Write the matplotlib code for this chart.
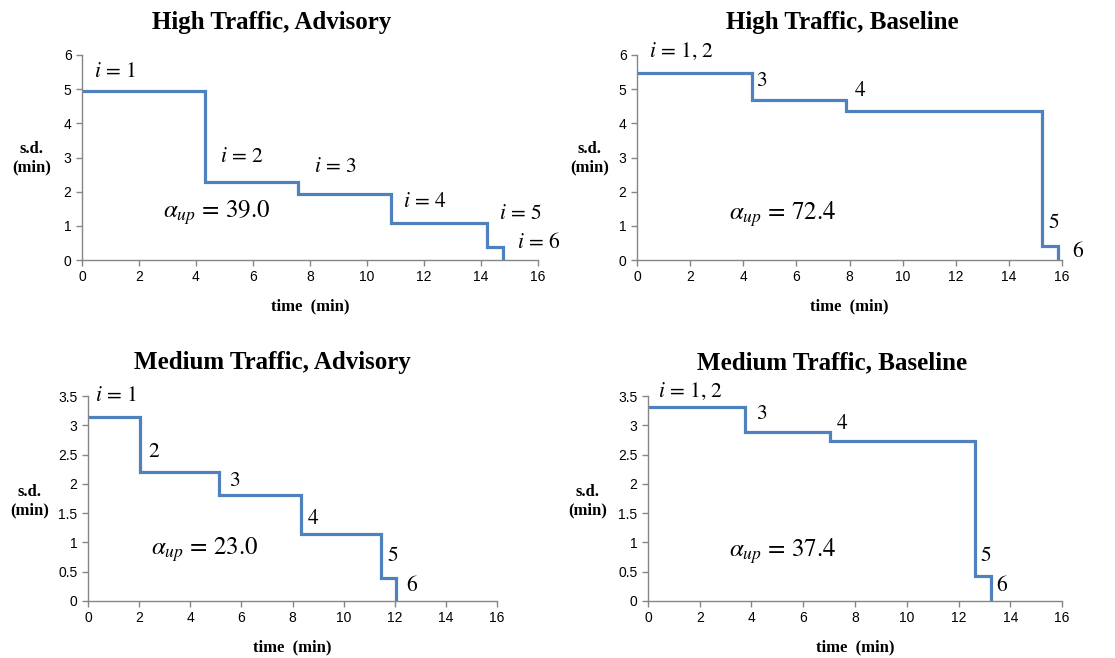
import matplotlib
matplotlib.use("Agg")
import matplotlib.pyplot as plt
from matplotlib.ticker import FuncFormatter

plt.rcParams['mathtext.fontset'] = 'stix'

# step change times (min) and s.d. values (min) for each panel
titles = ["High Traffic, Advisory", "High Traffic, Baseline",
          "Medium Traffic, Advisory", "Medium Traffic, Baseline"]
hi_adv_t = [0, 4.33, 7.58, 10.83, 14.2, 14.77]
hi_adv_sd = [4.96, 2.27, 1.92, 1.08, 0.38, 0]
hi_base_t = [0, 4.32, 7.85, 15.24, 15.85]
hi_base_sd = [5.48, 4.67, 4.35, 0.40, 0]
med_adv_t = [0, 2.03, 5.11, 8.34, 11.47, 12.03]
med_adv_sd = [3.15, 2.2, 1.81, 1.15, 0.40, 0]
med_base_t = [0, 3.75, 7.04, 12.63, 13.25]
med_base_sd = [3.32, 2.89, 2.73, 0.42, 0]
alpha_up = [39.0, 72.4, 23.0, 37.4]
y_max = [6, 6, 3.5, 3.5]
y_step = [1, 1, 0.5, 0.5]

# annotation labels: (text, x, y) in data coords (left, vcenter)
labels = [
    [("$i$ = 1", 0.42, 5.5), ("$i$ = 2", 4.83, 3.0), ("$i$ = 3", 8.13, 2.73),
     ("$i$ = 4", 11.25, 1.68), ("$i$ = 5", 14.64, 1.35), ("$i$ = 6", 15.28, 0.5)],
    [("$i$ = 1, 2", 0.45, 6.1), ("3", 4.5, 5.24), ("4", 8.2, 4.93),
     ("5", 15.5, 1.07), ("6", 16.37, 0.24)],
    [("$i$ = 1", 0.29, 3.5), ("2", 2.35, 2.55), ("3", 5.5, 2.05),
     ("4", 8.6, 1.39), ("5", 11.7, 0.76), ("6", 12.45, 0.25)],
    [("$i$ = 1, 2", 0.39, 3.57), ("3", 4.19, 3.19), ("4", 7.28, 3.02),
     ("5", 12.85, 0.76), ("6", 13.44, 0.25)],
]
alpha_pos = [(2.83, 1.38), (3.47, 1.35), (2.48, 0.875), (3.13, 0.85)]

series = [(hi_adv_t, hi_adv_sd), (hi_base_t, hi_base_sd),
          (med_adv_t, med_adv_sd), (med_base_t, med_base_sd)]

W, H = 1115, 658
# axes boxes in pixels: left, right, top, bottom
boxes = [(82, 538, 55, 260), (637, 1062, 55, 260),
         (88, 497, 396, 601), (648, 1062, 396, 601)]
title_pos = [(272, 22), (842, 22), (272, 363), (832, 363)]
ylab_pos = [(32, 158), (590, 158), (30, 501), (588, 501)]

fig = plt.figure(figsize=(W / 100, H / 100), dpi=100)
gray = '#868686'
blue = '#4F81BD'
serif = 'Liberation Serif'

for k in range(4):
    l, r, t, b = boxes[k]
    ax = fig.add_axes([l / W, 1 - b / H, (r - l) / W, (b - t) / H])
    xs, ys = series[k]
    ax.step(xs, ys, where='post', color=blue, lw=2.3, solid_joinstyle='miter')
    ax.set_xlim(0, 16)
    ax.set_ylim(0, y_max[k])
    ax.set_xticks(range(0, 17, 2))
    n = int(round(y_max[k] / y_step[k]))
    ax.set_yticks([i * y_step[k] for i in range(n + 1)])
    ax.yaxis.set_major_formatter(FuncFormatter(lambda v, p: '%g' % v))
    for s in ['top', 'right']:
        ax.spines[s].set_visible(False)
    for s in ['left', 'bottom']:
        ax.spines[s].set_color(gray)
        ax.spines[s].set_linewidth(1.0)
    ax.tick_params(colors=gray, labelcolor='black', labelsize=10,
                   length=4, width=1.0, direction='out')
    for lab in ax.get_xticklabels() + ax.get_yticklabels():
        lab.set_family('Liberation Sans')
    ax.set_xlabel("time  (min)", fontfamily=serif, fontweight='bold',
                  fontsize=12, labelpad=10)
    yx, yy = ylab_pos[k]
    fig.text(yx / W, 1 - yy / H, "s.d.\n(min)", ha='center', va='center',
             fontfamily=serif, fontweight='bold', fontsize=12,
             linespacing=1.15)
    for txt, x, y in labels[k]:
        ax.text(x, y, txt, ha='left', va='center', fontsize=15.5,
                fontfamily='STIXGeneral', clip_on=False)
    ax.text(alpha_pos[k][0], alpha_pos[k][1],
            r"$\alpha_{up}$ = %.1f" % alpha_up[k], ha='left', va='center',
            fontsize=18, fontfamily='STIXGeneral')
    tx, ty = title_pos[k]
    fig.text(tx / W, 1 - ty / H, titles[k], ha='center', va='center',
             fontfamily=serif, fontweight='bold', fontsize=18)

fig.savefig("out.png", dpi=100)
